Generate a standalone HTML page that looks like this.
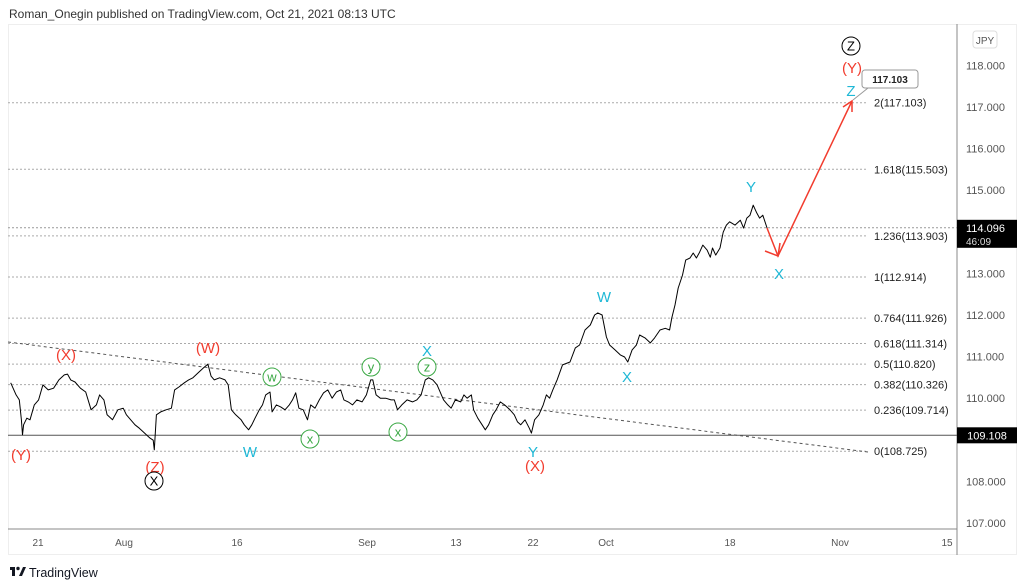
<!DOCTYPE html>
<html><head><meta charset="utf-8"><style>
body{margin:0;background:#fff;width:1024px;height:587px;overflow:hidden;font-family:"Liberation Sans","DejaVu Sans",sans-serif}
svg{position:absolute;left:0;top:0}
</style></head><body>
<svg width="1024" height="587">
<text x="9" y="18" font-size="12" fill="#333">Roman_Onegin published on TradingView.com, Oct 21, 2021 08:13 UTC</text>
<rect x="8.5" y="24.5" width="1008" height="530" fill="#fff" stroke="#eee"/>
<line x1="957" y1="24" x2="957" y2="555" stroke="#888"/>
<line x1="8" y1="529" x2="957" y2="529" stroke="#888"/>
<rect x="973" y="31" width="24" height="17" rx="3" fill="#fff" stroke="#ddd"/>
<text x="985" y="44" font-size="10" fill="#555" text-anchor="middle">JPY</text>
<g id="yticks"></g><g id="xticks"></g><g id="fibs"></g>
<line id="trend" stroke="#555" stroke-dasharray="3,3"/>
<polyline id="price" fill="none" stroke="#000" stroke-width="1" stroke-linejoin="round"/>
<g id="overlay"></g>
<g><rect x="10" y="567" width="5" height="3" fill="#131722"/><rect x="12" y="567" width="3" height="9" fill="#131722"/><circle cx="18" cy="568.5" r="1.7" fill="#131722"/><polygon points="19,576 23,567 26,567 22,576" fill="#131722"/></g>
<text x="29" y="577" font-size="12.5" fill="#131722">TradingView</text>
</svg>
<script>
const yTicks=[118,117,116,115,113,112,111,110,108,107];
const xLabels=["21","Aug","16","Sep","13","22","Oct","18","Nov","15"];
const xLabelPos=[38,124,237,367,456,533,606,730,840,947];
const fibRatios=["2","1.618","1.236","1","0.764","0.618","0.5","0.382","0.236","0"];
const fibPrices=[117.103,115.503,113.903,112.914,111.926,111.314,110.820,110.326,109.714,108.725];
const priceX=[10,15,18,20,21,22,25,28,32,36,
40,45,50,55,60,63,66,70,75,80,
85,90,93,97,100,105,110,115,118,122,
126,130,135,140,143,144,146,150,155,160,
163,167,172,176,180,185,190,194,197,200,
205,210,213,216,220,225,228,232,235,238,
242,245,248,252,254,258,262,266,270,273,
276,279,283,287,290,294,298,302,306,310,
314,318,321,325,329,333,338,342,346,348,
351,355,360,365,368,371,375,380,385,389,
393,397,400,404,408,412,414,418,421,425,
430,433,436,440,442,446,450,453,456,460,
463,467,471,476,480,483,486,490,494,496,
499,503,507,510,513,516,520,525,532,537,
541,546,551,555,558,562,566,569,574,579,
583,586,590,594,597,602,607,611,616,621,
625,627,630,633,637,640,644,647,650,653,
656,660,663,665,668,672,675,678,681,686,
691,694,697,700,703,706,709,712,716];
const priceV=[110.37,110.08,109.96,109.48,109.12,109.36,109.52,109.48,109.84,109.96,
110.32,110.20,110.24,110.44,110.56,110.58,110.44,110.39,110.24,110.15,
109.72,109.84,110.08,109.96,109.60,109.48,109.72,109.76,109.60,109.48,
109.36,109.28,109.16,109.04,108.99,108.76,109.60,109.67,109.72,109.76,
110.20,110.27,110.37,110.44,110.49,110.61,110.73,110.82,110.53,110.44,
110.49,110.44,110.32,109.72,109.60,109.48,109.36,109.24,109.36,109.52,
109.72,109.84,110.08,110.15,109.67,109.84,109.79,109.72,109.84,109.96,
110.13,109.76,109.72,109.48,109.84,109.76,109.96,110.13,110.20,110.00,
110.15,110.20,109.96,109.91,109.84,109.96,109.91,110.08,110.44,110.44,
110.08,110.00,110.00,109.96,109.96,109.72,109.84,109.96,109.91,109.96,
110.08,110.44,110.49,110.44,110.32,110.08,109.96,109.84,109.76,109.96,
109.91,110.08,110.00,110.08,109.72,109.52,109.36,109.24,109.36,109.60,
109.72,109.91,109.84,109.72,109.60,109.43,109.36,109.48,109.28,109.16,
109.48,109.60,109.84,110.08,110.00,110.20,110.44,110.80,110.87,111.21,
111.28,111.64,111.76,112.00,112.05,112.00,111.47,111.28,111.16,111.04,
110.99,110.87,111.16,111.28,111.52,111.45,111.33,111.45,111.64,111.68,
111.64,111.93,112.24,112.65,112.96,113.32,113.37,113.49,113.37,113.51,
113.68,113.56,113.39,113.61,113.44,113.61,113.99,114.16,114.24,114.16,
114.28,114.09,114.33,114.40,114.64,114.47,114.33,114.40,114.09];
const yS=p=>65.4+(118-p)*41.6;
const xS=t=>t*1.0714;
const NS="http://www.w3.org/2000/svg";
function mk(tag,attrs,parent,txt){const e=document.createElementNS(NS,tag);for(const k in attrs)e.setAttribute(k,attrs[k]);if(txt!==undefined)e.textContent=txt;parent.appendChild(e);return e;}
const yg=document.getElementById('yticks');
yTicks.forEach(v=>{const t=mk('text',{x:966,y:yS(v)+4,'font-size':11,fill:'#555'},yg,v.toFixed(3));

});
const xg=document.getElementById('xticks');
xLabels.forEach((l,i)=>{const t=mk('text',{x:xLabelPos[i],y:546,'font-size':10,fill:'#555','text-anchor':'middle'},xg,l);

});
const fg=document.getElementById('fibs');
fibPrices.forEach((p,i)=>{const y=yS(p);
const ln=mk('line',{x1:8,x2:868,y1:y,y2:y,stroke:'#aaa','stroke-dasharray':'2,2'},fg);


const t=mk('text',{x:874,y:y+4,'font-size':11,fill:'#222'},fg,fibRatios[i]+'('+p.toFixed(3)+')');

});
const cur=mk('line',{x1:8,x2:957,y1:yS(114.096),y2:yS(114.096),stroke:'#999','stroke-dasharray':'2,2'},fg);


const sup=mk('line',{x1:8,x2:957,y1:yS(109.108),y2:yS(109.108),stroke:'#555','stroke-width':1},fg);


const b1=mk('rect',{x:957,y:yS(109.108)-8,width:60,height:16,fill:'#000'},fg);


mk('text',{x:987,y:yS(109.108)+4,'font-size':11,fill:'#fff','text-anchor':'middle'},fg,'109.108');
const b2=mk('rect',{x:957,y:yS(114.096)-8,width:60,height:28,fill:'#000'},fg);


mk('text',{x:966,y:yS(114.096)+4,'font-size':11,fill:'#fff'},fg,'114.096');
mk('text',{x:966,y:yS(114.096)+17,'font-size':10,fill:'#ddd'},fg,'46:09');
const tr=document.getElementById('trend');
tr.setAttribute('x1',8);tr.setAttribute('y1',342);tr.setAttribute('x2',868);tr.setAttribute('y2',452);
document.getElementById('price').setAttribute('points',priceX.map((x,i)=>xS(x).toFixed(1)+','+yS(priceV[i]).toFixed(1)).join(' '));
const ov=document.getElementById('overlay');
const arr=mk('polyline',{points:'767,228 778,256 852,101',fill:'none',stroke:'#f23c2e','stroke-width':1.5},ov);


mk('polyline',{points:'765,251 778,256 780,243',fill:'none',stroke:'#f23c2e','stroke-width':1.5},ov);
mk('polyline',{points:'843,107 852,101 852,112',fill:'none',stroke:'#f23c2e','stroke-width':1.5},ov);
const cb=mk('rect',{x:862,y:70,width:56,height:18,rx:3,fill:'#fff',stroke:'#999'},ov);


mk('line',{x1:868,y1:88,x2:853,y2:100,stroke:'#999'},ov);
mk('text',{x:890,y:83,'font-size':10,'font-weight':'bold',fill:'#222','text-anchor':'middle'},ov,'117.103');
const labels=[["(X)",66,360,'#f23c2e'],["(W)",208,353,'#f23c2e'],["(Y)",21,460,'#f23c2e'],["(Z)",155,472,'#f23c2e'],["(X)",535,471,'#f23c2e'],["(Y)",852,73,'#f23c2e'],
["W",250,457,'#1fb8d6'],["X",427,356,'#1fb8d6'],["Y",533,457,'#1fb8d6'],["W",604,302,'#1fb8d6'],["X",627,382,'#1fb8d6'],["Y",751,192,'#1fb8d6'],["X",779,279,'#1fb8d6'],["Z",851,96,'#1fb8d6']];
labels.forEach(l=>{const t=mk('text',{x:l[1],y:l[2],'font-size':15,fill:l[3],'text-anchor':'middle'},ov,l[0]);

});
const circ=[["w",272,377,'#3aa844'],["y",371,367,'#3aa844'],["z",427,367,'#3aa844'],["x",310,439,'#3aa844'],["x",398,432,'#3aa844'],["X",154,481,'#000'],["Z",851,46,'#000']];
circ.forEach(c=>{const g=mk('circle',{cx:c[1],cy:c[2],r:9,fill:'#fff',stroke:c[3]},ov);


mk('text',{x:c[1],y:c[2]+4.5,'font-size':13,fill:c[3],'text-anchor':'middle'},ov,c[0]);});
</script>
</body></html>
